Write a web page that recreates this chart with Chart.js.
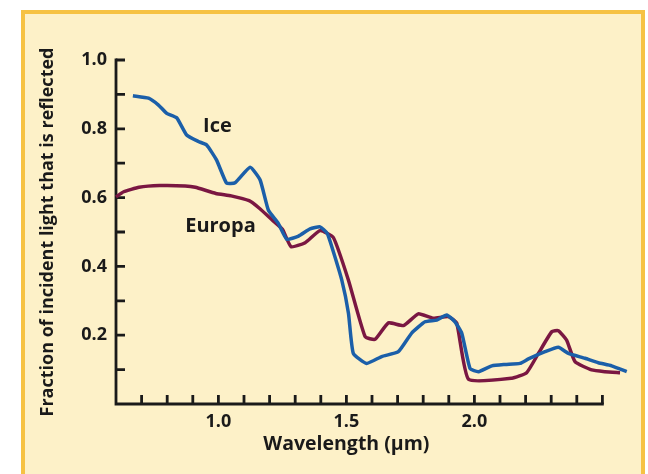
<!DOCTYPE html>
<html>
<head>
<meta charset="utf-8">
<script src="https://cdn.jsdelivr.net/npm/chart.js@4"></script>
<style>
    html, body { margin: 0; padding: 0; background: #ffffff; }
    body { width: 648px; height: 474px; position: relative; overflow: hidden; }
    .frame {
        position: absolute; left: 21px; top: 10px;
        width: 616px; height: 480px;
        border: 4px solid #f6c243;
        background: #fdf1c8;
    }
    #chart { position: absolute; left: 0; top: 0; }
</style>
</head>
<body>
<div class="frame"></div>
<canvas id="chart" width="648" height="474"></canvas>
<script>
// Reflectance spectra: pure water ice vs. Europa's surface
const iceWavelength = [0.666, 0.727, 0.766, 0.798, 0.837, 0.876, 0.922, 0.954, 0.993, 1.032, 1.065, 1.124,
    1.163, 1.195, 1.234, 1.267, 1.313, 1.358, 1.397, 1.425, 1.443, 1.482, 1.508, 1.527, 1.579, 1.638, 1.703,
    1.755, 1.807, 1.853, 1.892, 1.924, 1.951, 1.983, 2.016, 2.068, 2.120, 2.178, 2.211, 2.276, 2.328, 2.367,
    2.432, 2.484, 2.536, 2.595];
const iceReflectance = [0.896, 0.889, 0.869, 0.845, 0.832, 0.782, 0.763, 0.753, 0.709, 0.642, 0.643, 0.688,
    0.651, 0.564, 0.525, 0.479, 0.488, 0.509, 0.515, 0.496, 0.457, 0.360, 0.264, 0.147, 0.118, 0.138, 0.152,
    0.206, 0.239, 0.244, 0.259, 0.239, 0.205, 0.103, 0.094, 0.111, 0.115, 0.118, 0.131, 0.152, 0.165, 0.147,
    0.133, 0.120, 0.111, 0.094];

const europaWavelength = [0.600, 0.630, 0.690, 0.770, 0.870, 0.910, 0.990, 1.050, 1.120, 1.160, 1.210, 1.250,
    1.284, 1.339, 1.397, 1.449, 1.508, 1.573, 1.612, 1.664, 1.723, 1.781, 1.840, 1.898, 1.931, 1.977, 2.146,
    2.204, 2.250, 2.302, 2.328, 2.360, 2.393, 2.458, 2.510, 2.569];
const europaReflectance = [0.602, 0.617, 0.630, 0.635, 0.634, 0.630, 0.612, 0.605, 0.591, 0.569, 0.535, 0.508,
    0.457, 0.469, 0.504, 0.484, 0.360, 0.196, 0.188, 0.236, 0.228, 0.262, 0.249, 0.254, 0.235, 0.072, 0.075,
    0.091, 0.147, 0.210, 0.213, 0.186, 0.123, 0.099, 0.094, 0.091];

const xTickLabels = [1.0, 1.5, 2.0];
const yTickLabels = [0.2, 0.4, 0.6, 0.8, 1.0];
const xMinorTicks = [0.7, 0.8, 0.9, 1.0, 1.1, 1.2, 1.3, 1.4, 1.5, 1.6, 1.7, 1.8, 1.9, 2.0, 2.1, 2.2, 2.3, 2.4, 2.5];
const yMinorTicks = [0.1, 0.2, 0.3, 0.4, 0.5, 0.6, 0.7, 0.8, 0.9, 1.0];

// curve labels, placed in data units
const seriesLabels = [
    { text: 'Ice', x: 0.996, y: 0.808 },
    { text: 'Europa', x: 1.008, y: 0.517 }
];
const xTitle = 'Wavelength (μm)';

const ICE_BLUE = '#1b5fa9';
const EUROPA_RED = '#7a1742';
const INK = '#1a1a1a';
const FONT = 'Open Sans';

function toPoints(xs, ys) {
    return xs.map((x, i) => ({ x, y: ys[i] }));
}

// axis lines with inward tick marks, axis ends at 2.5 µm
const axesPlugin = {
    id: 'inwardAxes',
    beforeDatasetsDraw(chart) {
        const { ctx, scales: { x, y } } = chart;
        const x0 = x.getPixelForValue(0.6);
        const x1 = x.getPixelForValue(2.5);
        const y0 = y.getPixelForValue(0);
        const y1 = y.getPixelForValue(1.0);
        const tick = 9;
        ctx.save();
        ctx.strokeStyle = INK;
        ctx.lineWidth = 2.8;
        ctx.lineCap = 'square';
        ctx.beginPath();
        ctx.moveTo(x0, y1);
        ctx.lineTo(x0, y0);
        ctx.lineTo(x1, y0);
        ctx.stroke();
        ctx.lineCap = 'butt';
        ctx.beginPath();
        xMinorTicks.forEach(v => {
            const px = x.getPixelForValue(v);
            ctx.moveTo(px, y0);
            ctx.lineTo(px, y0 - tick);
        });
        yMinorTicks.forEach(v => {
            const py = y.getPixelForValue(v);
            ctx.moveTo(x0, py);
            ctx.lineTo(x0 + tick, py);
        });
        ctx.stroke();
        ctx.restore();
    },
    afterDatasetsDraw(chart) {
        const { ctx, scales: { x, y } } = chart;
        ctx.save();
        ctx.fillStyle = INK;
        ctx.textAlign = 'center';
        ctx.textBaseline = 'middle';
        ctx.font = `bold 20px "${FONT}"`;
        seriesLabels.forEach(l => {
            ctx.fillText(l.text, x.getPixelForValue(l.x), y.getPixelForValue(l.y));
        });
        // x title sits under the middle of the drawn axis (1.5 µm)
        ctx.font = `bold 19.5px "${FONT}"`;
        ctx.fillText(xTitle, x.getPixelForValue(1.5), y.getPixelForValue(0) + 40);
        ctx.restore();
    }
};

new Chart(document.getElementById('chart'), {
    type: 'line',
    data: {
        datasets: [
            {
                label: 'Ice',
                data: toPoints(iceWavelength, iceReflectance),
                borderColor: ICE_BLUE,
                borderWidth: 3.5,
                pointRadius: 0,
                tension: 0.15,
                clip: false
            },
            {
                label: 'Europa',
                data: toPoints(europaWavelength, europaReflectance),
                borderColor: EUROPA_RED,
                borderWidth: 3.5,
                pointRadius: 0,
                tension: 0.15,
                clip: false
            }
        ]
    },
    options: {
        responsive: false,
        animation: false,
        layout: { padding: { top: 60, right: 20, left: 0, bottom: 0 } },
        plugins: {
            legend: { display: false },
            tooltip: { enabled: false }
        },
        scales: {
            x: {
                type: 'linear',
                min: 0.6,
                max: 2.6,
                border: { display: false },
                grid: { display: false, drawTicks: false },
                afterBuildTicks: scale => { scale.ticks = xTickLabels.map(v => ({ value: v })); },
                afterFit: scale => { scale.height = 70; },
                ticks: {
                    padding: 7,
                    color: INK,
                    font: { family: FONT, size: 18, weight: 'bold' },
                    callback: v => v.toFixed(1)
                }
            },
            y: {
                min: 0,
                max: 1.0,
                border: { display: false },
                grid: { display: false, drawTicks: false },
                afterBuildTicks: scale => { scale.ticks = yTickLabels.map(v => ({ value: v })); },
                afterFit: scale => { scale.width = 116; },
                ticks: {
                    padding: 9,
                    color: INK,
                    font: { family: FONT, size: 18, weight: 'bold' },
                    callback: v => v.toFixed(1)
                },
                title: {
                    display: true,
                    text: 'Fraction of incident light that is reflected',
                    color: INK,
                    font: { family: FONT, size: 18, weight: 'bold' },
                    padding: { top: 37, bottom: 0 }
                }
            }
        }
    },
    plugins: [axesPlugin]
});
</script>
</body>
</html>
